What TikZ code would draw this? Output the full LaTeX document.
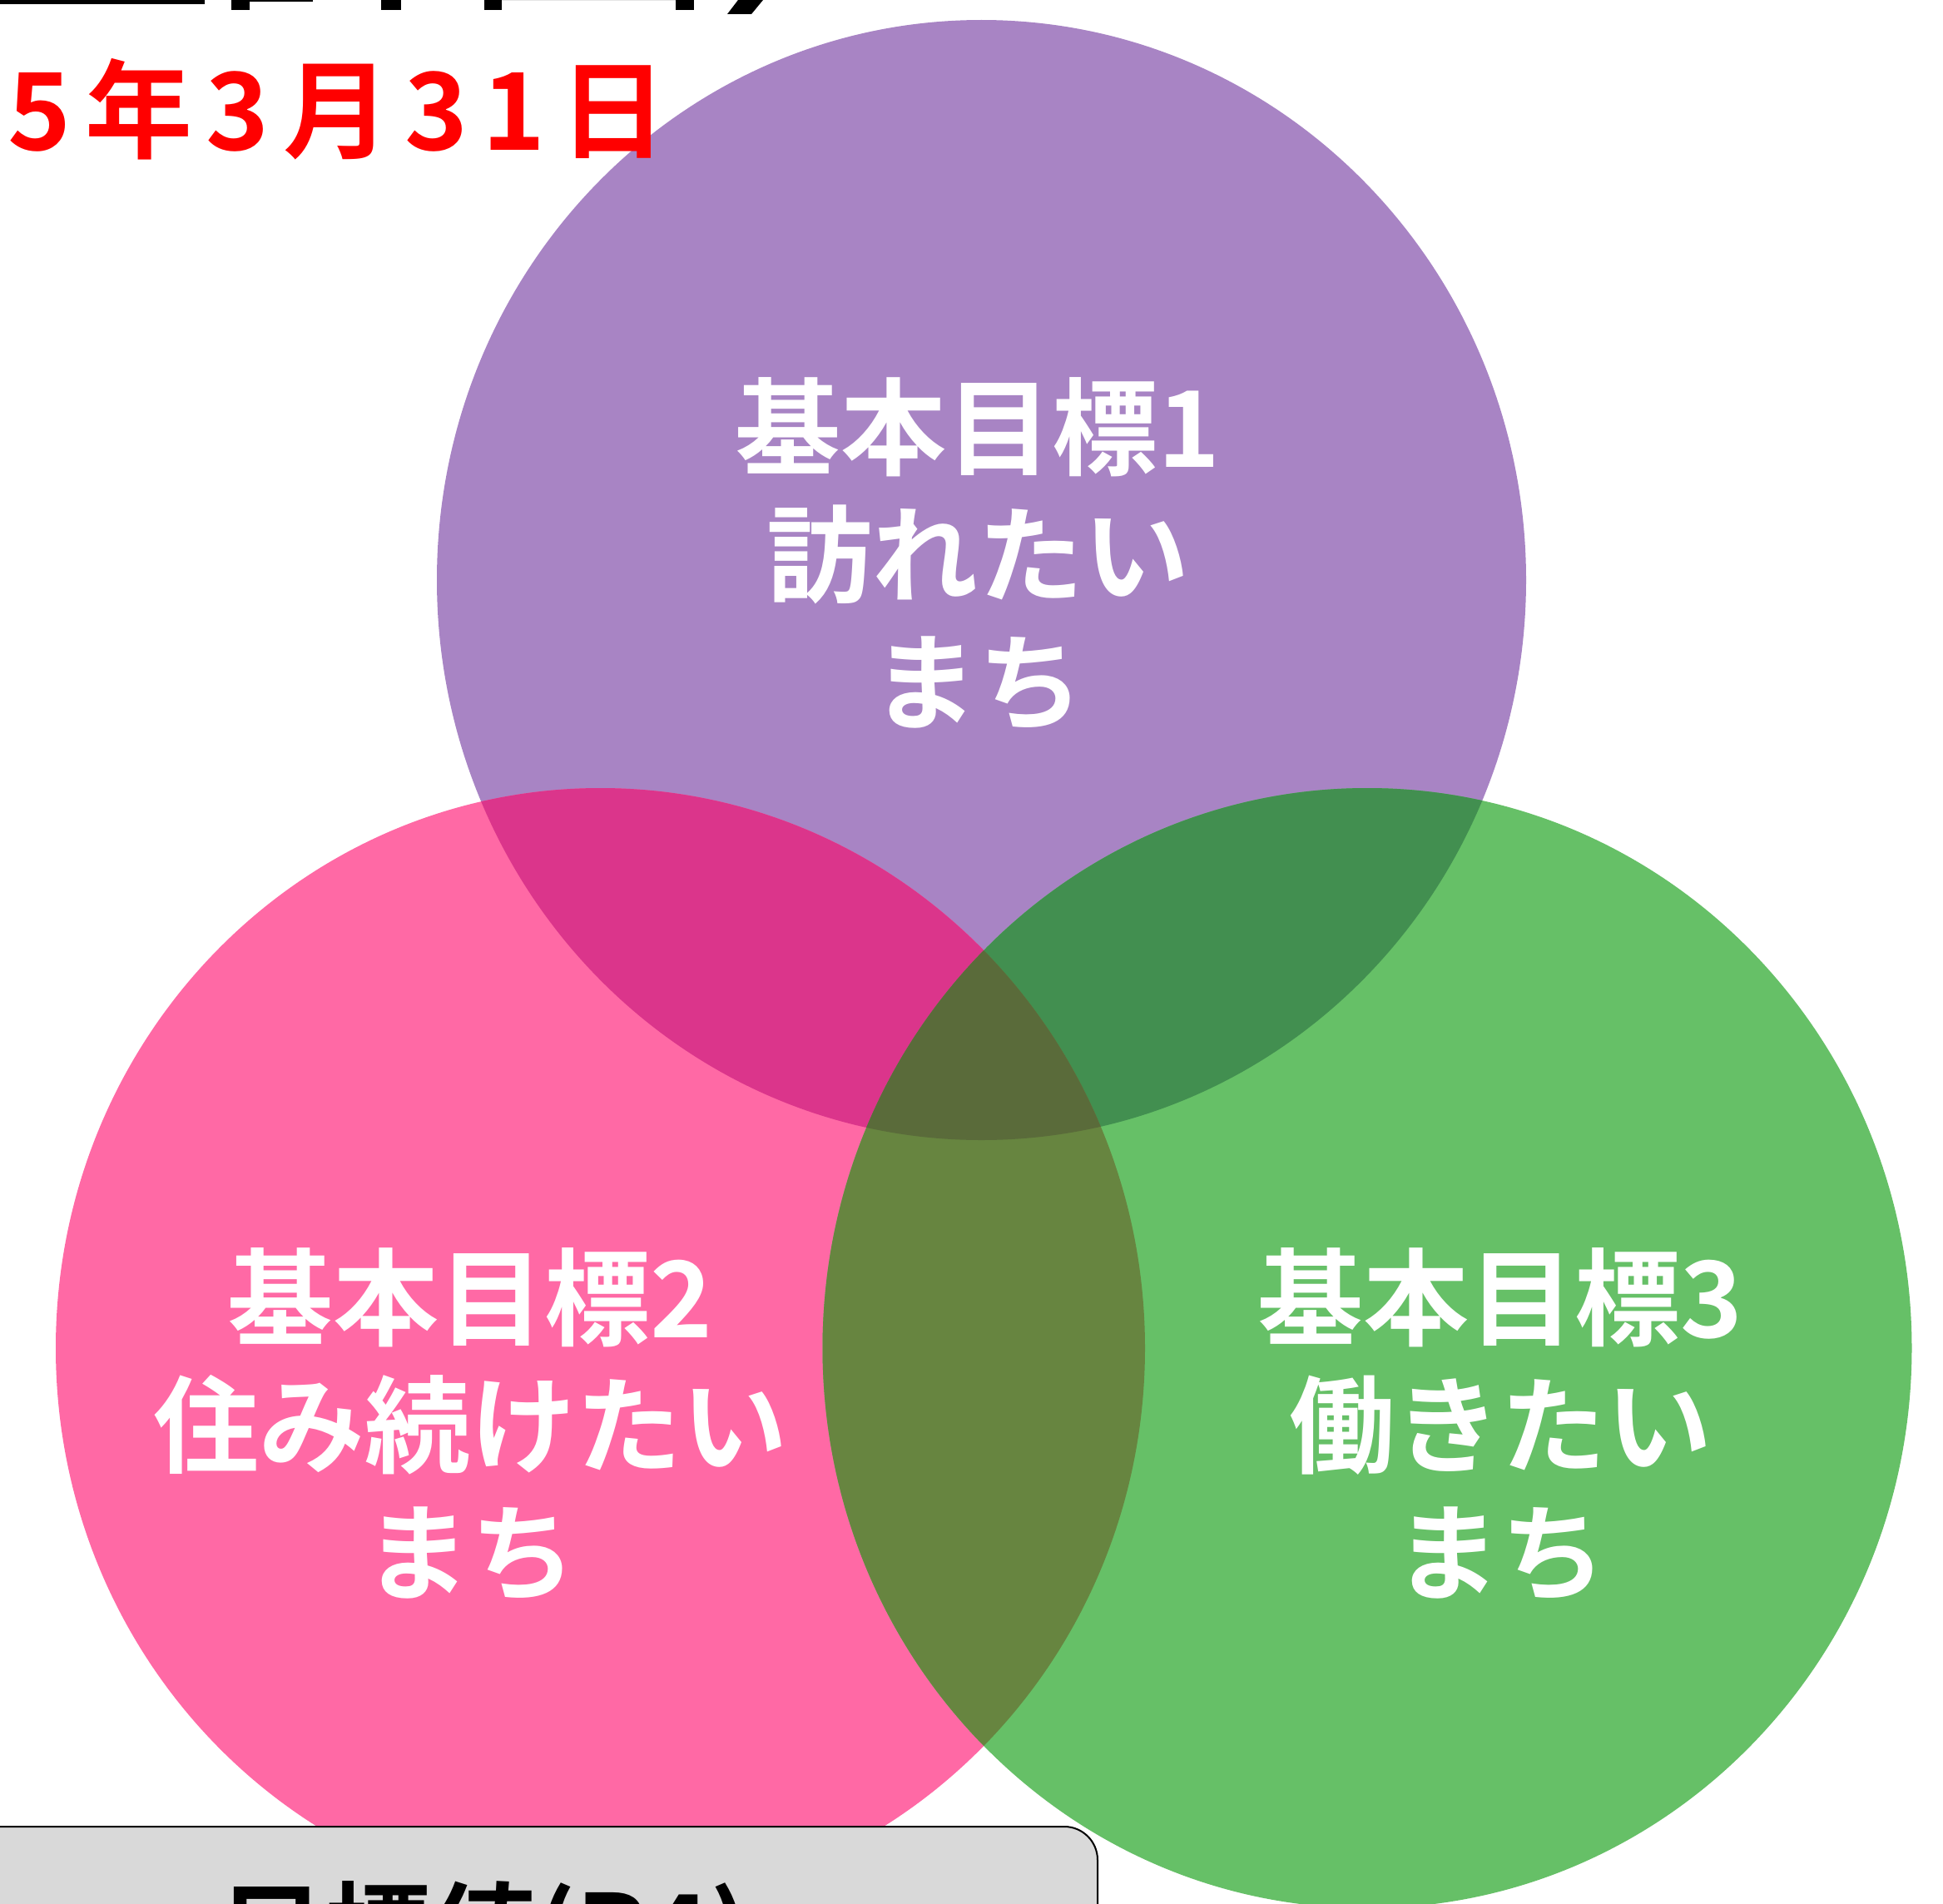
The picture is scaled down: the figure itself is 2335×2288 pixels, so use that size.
\documentclass[tikz,border=0pt]{standalone}
\usepackage{fontspec}
\newfontfamily\jp{Noto Sans CJK JP}[BoldFont={* Bold}]
\definecolor{cP}{HTML}{A884C4}
\definecolor{cK}{HTML}{FF69A5}
\definecolor{cG}{HTML}{66C067}
\definecolor{cPK}{HTML}{DB358B}
\definecolor{cPG}{HTML}{428F50}
\definecolor{cKG}{HTML}{678540}
\definecolor{cC}{HTML}{5A6B3A}
\definecolor{boxgray}{HTML}{D9D9D9}
\tikzset{
  ell/.style={x radius=654.5pt,y radius=673pt},
  goal/.style={text=white,inner sep=0pt,align=center,font=\jp\bfseries\fontsize{127}{153}\selectfont},
  frag/.style={fill=black},
}
\begin{document}
\begin{tikzpicture}[x=1pt,y=-1pt]
\useasboundingbox (0,0) rectangle (2335,2288);
\clip (0,0) rectangle (2335,2288);
% circles
\fill[cP] (1179.5,697) ellipse[ell];
\fill[cK] (721.5,1620) ellipse[ell];
\fill[cG] (1643,1620) ellipse[ell];
\begin{scope}
  \clip (1179.5,697) ellipse[ell];
  \fill[cPK] (721.5,1620) ellipse[ell];
\end{scope}
\begin{scope}
  \clip (1179.5,697) ellipse[ell];
  \fill[cPG] (1643,1620) ellipse[ell];
\end{scope}
\begin{scope}
  \clip (721.5,1620) ellipse[ell];
  \fill[cKG] (1643,1620) ellipse[ell];
\end{scope}
\begin{scope}
  \clip (1179.5,697) ellipse[ell];
  \clip (721.5,1620) ellipse[ell];
  \fill[cC] (1643,1620) ellipse[ell];
\end{scope}
% goal texts
\node[goal] (g1) at (1175,666) {基本目標1\\訪れたい\\まち};
\node[goal] (g2) at (565,1712) {基本目標2\\住み続けたい\\まち};
\node[goal] (g3) at (1803,1712) {基本目標3\\働きたい\\まち};
% date
\node[anchor=base west,inner sep=0pt,text=red,font=\jp\bfseries\fontsize{129}{129}\selectfont\addfontfeature{LetterSpace=13}] (date) at (9,181) {5年3月31日};
% cut-off title fragments
\fill[frag] (0,0) rectangle (246,5);
\fill[frag] (278,0) rectangle (300,12);
\fill[frag] (300,0) rectangle (376,2);
\fill[frag] (458,0) rectangle (482,12);
\fill[frag] (582,0) rectangle (603,12);
\fill[black!10] (603,0) rectangle (812,1);
\fill[frag] (812,0) rectangle (834,12);
\fill[frag] (874,17) -- (903,17) -- (917,0) -- (887,0) -- cycle;
% bottom box
\draw[fill=boxgray,draw=black,line width=2pt,rounded corners=40pt] (-60,2195) rectangle (1319,2450);
\node[anchor=base west,inner sep=0pt,font=\jp\bfseries\fontsize{127}{127}\selectfont] (target) at (263,2368) {目標値(R4)};
\end{tikzpicture}
\end{document}
